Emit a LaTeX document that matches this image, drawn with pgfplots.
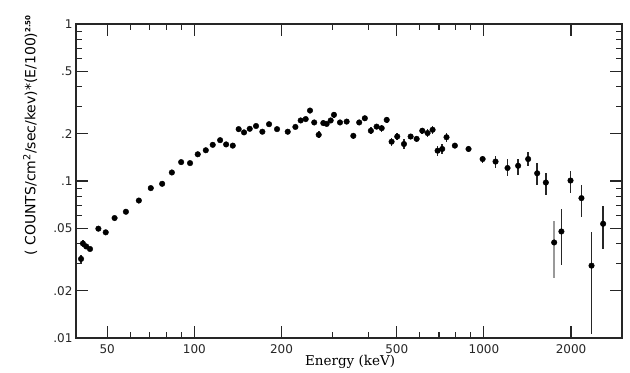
\documentclass[border=0pt]{standalone}
\usepackage{pgfplots}
\pgfplotsset{compat=1.18}
\usepackage{pgfplotstable}
\usepackage{fontspec}
\setmainfont{DejaVu Sans}
\newfontfamily\seriffont{DejaVu Serif}

\pgfplotstableread{
x y ep em
40.6 0.0319 0.06 0.06
41.2 0.0400 0.05 0.05
42.3 0.0383 0.03 0.03
43.6 0.0369 0.03 0.03
46.6 0.0497 0.02 0.02
49.4 0.0471 0.02 0.02
53.0 0.0581 0.02 0.02
58.0 0.0637 0.02 0.02
64.3 0.0751 0.02 0.02
70.7 0.0901 0.02 0.02
77.4 0.0960 0.02 0.02
83.6 0.1133 0.02 0.02
90.0 0.1319 0.02 0.02
96.6 0.130 0.02 0.02
102.7 0.148 0.02 0.02
109.5 0.157 0.02 0.02
115.7 0.170 0.02 0.02
122.7 0.182 0.03 0.03
128.7 0.171 0.02 0.02
135.7 0.168 0.02 0.02
142.2 0.214 0.02 0.02
148.4 0.204 0.02 0.02
155.3 0.215 0.02 0.02
163.3 0.224 0.02 0.02
171.7 0.206 0.02 0.02
181.1 0.230 0.03 0.03
193.0 0.214 0.02 0.02
210.1 0.206 0.02 0.02
223.3 0.221 0.03 0.03
232.9 0.243 0.03 0.03
242.4 0.248 0.03 0.03
250.8 0.281 0.04 0.04
259.4 0.236 0.04 0.04
268.8 0.197 0.05 0.05
278.8 0.234 0.04 0.04
286.4 0.231 0.03 0.03
295.7 0.243 0.03 0.03
303.5 0.264 0.04 0.04
318.4 0.236 0.03 0.03
335.7 0.239 0.03 0.03
354 0.194 0.05 0.05
371 0.236 0.04 0.04
388 0.251 0.04 0.04
407 0.209 0.05 0.05
426 0.222 0.04 0.04
443.6 0.217 0.05 0.05
461.7 0.245 0.04 0.04
480 0.178 0.06 0.06
502 0.192 0.05 0.05
529.6 0.172 0.07 0.07
558.5 0.192 0.04 0.04
585.8 0.1855 0.05 0.05
612.6 0.209 0.04 0.04
639 0.202 0.06 0.06
665 0.212 0.06 0.06
692 0.156 0.07 0.07
718 0.160 0.07 0.07
743 0.190 0.07 0.07
794 0.168 0.04 0.04
885 0.160 0.05 0.05
990 0.138 0.05 0.05
1097 0.133 0.09 0.09
1207 0.121 0.14 0.107
1313 0.125 0.104 0.128
1422 0.138 0.116 0.10
1528 0.112 0.16 0.154
1637 0.0978 0.155 0.165
1853 0.0477 0.384 0.392
1992 0.1007 0.158 0.171
2173 0.0778 0.219 0.243
2354 0.0289 0.65 0.633
2582 0.0534 0.305 0.309
}\maindata

\pgfplotstableread{
x y ep em
1749 0.0406 0.379 0.409
}\graydata

\begin{document}
\begin{tikzpicture}
\path[use as bounding box] (-76bp,-35bp) rectangle (554bp,338bp);
\begin{axis}[
  at={(0,0)}, anchor=south west,
  scale only axis, width=546bp, height=314bp,
  xmode=log, ymode=log,
  xmin=39, xmax=3000, ymin=0.01, ymax=1,
  axis line style={line width=1.4bp, black!85},
  tick style={line width=1.1bp, black!85},
  tick align=inside,
  major tick length=12bp, minor tick length=6bp,
  xtick={50,100,200,500,1000,2000},
  xticklabels={50,100,200,500,1000,2000},
  minor xtick={60,70,80,90,300,400,600,700,800,900},
  ytick={0.01,0.02,0.05,0.1,0.2,0.5,1},
  yticklabels={.01,.02,.05,.1,.2,.5,1},
  minor ytick={0.03,0.04,0.06,0.07,0.08,0.09,0.3,0.4,0.6,0.7,0.8,0.9},
  tick label style={font=\fontsize{12bp}{14bp}\selectfont, black!85},
  xticklabel style={yshift=-3bp},
  every axis x label/.style={at={(axis description cs:0.502,0)},anchor=center,yshift=-24bp},
  every axis y label/.style={at={(axis description cs:-0.084,0.646)},rotate=90,anchor=center},
  xlabel={\seriffont\fontsize{13.5bp}{15bp}\selectfont Energy (keV)},
  ylabel={\fontsize{14bp}{16bp}\selectfont ( COUNTS/cm\textsuperscript{2}/sec/kev)*(E/100)\textsuperscript{\bfseries\fontsize{7bp}{8bp}\selectfont 2.50}},
  clip=false,
]
\addplot[only marks, mark=*, mark size=2.8bp, black,
  error bars/.cd, y dir=both, y explicit relative,
  error bar style={line width=1.6bp, black!85}, error mark=none]
  table[x=x, y=y, y error plus=ep, y error minus=em] {\maindata};
\addplot[only marks, mark=*, mark size=2.8bp, black,
  error bars/.cd, y dir=both, y explicit relative,
  error bar style={line width=1.6bp, black!40}, error mark=none]
  table[x=x, y=y, y error plus=ep, y error minus=em] {\graydata};
\end{axis}
\end{tikzpicture}
\end{document}
